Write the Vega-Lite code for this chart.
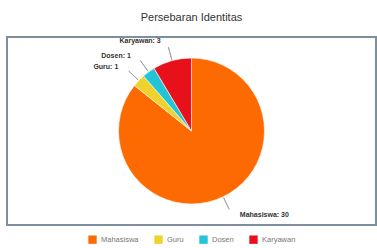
{
  "$schema": "https://vega.github.io/schema/vega-lite/v6.json",
  "autosize": "none",
  "width": 369,
  "height": 188,
  "padding": {"left": 7, "top": 37, "right": 1, "bottom": 23},
  "background": "white",
  "title": {"text": "Persebaran Identitas", "fontSize": 11, "font": "Liberation Sans", "fontWeight": "normal", "color": "#333333", "offset": 14},
  "view": {"stroke": "#7f8e9c", "strokeWidth": 2},
  "data": {"values": [
    {"Identitas": "Mahasiswa", "Jumlah": 30},
    {"Identitas": "Guru", "Jumlah": 1},
    {"Identitas": "Dosen", "Jumlah": 1},
    {"Identitas": "Karyawan", "Jumlah": 3}
  ]},
  "transform": [
    {"window": [{"op": "row_number", "as": "urutan"}]},
    {"window": [{"op": "sum", "field": "Jumlah", "as": "kum"}], "sort": [{"field": "urutan"}], "frame": [null, 0]},
    {"calculate": "datum.kum - datum.Jumlah / 2", "as": "tengah"},
    {"calculate": "datum.Identitas + ': ' + datum.Jumlah", "as": "label"}
  ],
  "layer": [
    {
      "mark": {"type": "arc", "radius": 73, "stroke": "white", "strokeWidth": 0.6},
      "encoding": {
        "theta": {"field": "Jumlah", "type": "quantitative", "stack": true, "scale": {"domain": [0, 35]}},
        "order": {"field": "urutan", "type": "quantitative"},
        "color": {
          "field": "Identitas", "type": "nominal",
          "scale": {"domain": ["Mahasiswa", "Guru", "Dosen", "Karyawan"], "range": ["#fd6a02", "#f0d22c", "#22c4d6", "#e8101b"]},
          "legend": {"title": null, "orient": "none", "legendX": 81, "legendY": 198, "direction": "horizontal", "symbolType": "square", "symbolSize": 70, "symbolStrokeWidth": 0, "labelFontSize": 7.5, "labelFont": "Liberation Sans", "labelColor": "#777777", "columnPadding": 15, "labelOffset": 4}
        }
      }
    },
    {
      "mark": {"type": "arc", "radius": 87, "radius2": 74, "filled": false, "stroke": "#9a9a9a", "strokeWidth": 0.8},
      "encoding": {
        "theta": {"field": "tengah", "type": "quantitative", "stack": null},
        "theta2": {"field": "tengah"}
      }
    },
    {
      "mark": {"type": "text", "radius": 93, "align": "right", "dx": -6, "fontSize": 7, "fontWeight": "bold", "font": "Liberation Sans", "color": "#333333"},
      "encoding": {
        "theta": {"field": "Jumlah", "type": "quantitative", "stack": true},
        "order": {"field": "urutan", "type": "quantitative"},
        "text": {"condition": {"test": "datum.Identitas !== 'Mahasiswa'", "field": "label"}, "value": ""}
      }
    },
    {
      "mark": {"type": "text", "radius": 93, "align": "left", "dx": 8, "fontSize": 7, "fontWeight": "bold", "font": "Liberation Sans", "color": "#333333"},
      "encoding": {
        "theta": {"field": "Jumlah", "type": "quantitative", "stack": true},
        "order": {"field": "urutan", "type": "quantitative"},
        "text": {"condition": {"test": "datum.Identitas === 'Mahasiswa'", "field": "label"}, "value": ""}
      }
    }
  ]
}
